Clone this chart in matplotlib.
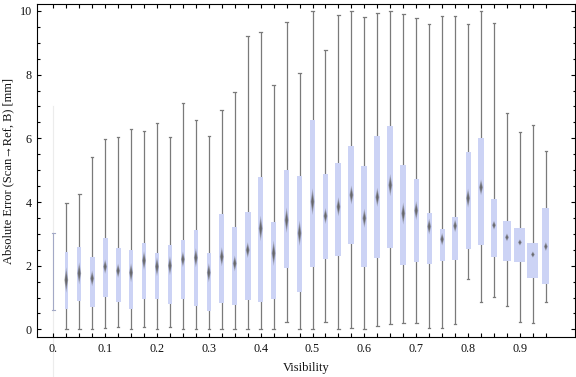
import numpy as np
import matplotlib
matplotlib.use("Agg")
import matplotlib.pyplot as plt
from matplotlib.ticker import FixedLocator, MultipleLocator

plt.rcParams['font.family'] = ['Liberation Serif', 'DejaVu Serif']

# --- data ---
visibility = [0.025, 0.05, 0.075, 0.1, 0.125, 0.15, 0.175, 0.2,
              0.225, 0.25, 0.275, 0.3, 0.325, 0.35, 0.375, 0.4,
              0.425, 0.45, 0.475, 0.5, 0.525, 0.55, 0.575, 0.6, 0.625,
              0.65, 0.675, 0.7, 0.725, 0.75, 0.775, 0.8,
              0.825, 0.85, 0.875, 0.9, 0.925, 0.95]
whisker_low = [0.00, 0.02, 0.02, 0.03, 0.06, 0.00, 0.08, 0.00,
               0.06, 0.02, 0.00, 0.00, 0.00, 0.00, 0.00, 0.00,
               0.00, 0.24, 0.00, 0.00, 0.24, 0.00, 0.03, 0.00, 0.10,
               0.17, 0.21, 0.19, 0.03, 0.03, 0.17, 1.57,
               0.85, 1.02, 0.73, 0.22, 0.19, 0.85]
quart_low = [0.64, 0.88, 0.71, 1.01, 0.86, 0.64, 0.94, 0.95,
             0.81, 0.96, 0.74, 0.59, 0.84, 0.77, 0.93, 0.86,
             0.96, 1.92, 1.18, 1.95, 2.22, 2.30, 2.69, 1.97, 2.25,
             2.57, 2.02, 2.12, 2.06, 2.15, 2.19, 2.53,
             2.65, 2.28, 2.16, 2.13, 1.62, 1.43]
median = [1.55, 1.76, 1.60, 1.97, 1.84, 1.78, 2.16, 1.97,
          2.00, 2.20, 2.25, 1.78, 2.28, 2.07, 2.49, 3.17,
          2.39, 3.43, 3.02, 4.01, 3.56, 3.85, 4.22, 3.49, 4.15,
          4.53, 3.64, 3.73, 3.23, 2.83, 3.25, 4.12,
          4.46, 3.27, 2.89, 2.73, 2.35, 2.60]
quart_high = [2.42, 2.58, 2.27, 2.87, 2.55, 2.49, 2.71, 2.40,
              2.65, 2.81, 3.12, 2.40, 3.62, 3.20, 3.69, 4.79,
              3.37, 5.01, 4.82, 6.58, 4.88, 5.23, 5.76, 5.13, 6.07,
              6.39, 5.16, 4.72, 3.65, 3.15, 3.53, 5.57,
              6.01, 4.08, 3.40, 3.17, 2.70, 3.80]
whisker_high = [3.96, 4.25, 5.41, 5.97, 6.05, 6.30, 6.23, 6.48,
                6.04, 7.10, 6.57, 6.06, 6.89, 7.46, 9.21, 9.33,
                7.69, 9.64, 8.04, 9.99, 8.76, 9.87, 9.99, 9.81, 9.94,
                9.99, 9.90, 9.77, 9.58, 9.84, 9.84, 9.58,
                9.99, 9.61, 6.81, 6.21, 6.41, 5.61]
# median confidence band (diamond height)
notch_height = [0.80, 0.70, 0.50, 0.45, 0.45, 0.60, 0.60, 0.60,
                0.60, 0.50, 0.60, 0.60, 0.60, 0.50, 0.50, 0.80,
                0.80, 0.80, 0.80, 0.84, 0.50, 0.60, 0.60, 0.60, 0.60,
                0.70, 0.70, 0.60, 0.50, 0.40, 0.40, 0.60,
                0.50, 0.28, 0.25, 0.20, 0.20, 0.28]
# first group at visibility 0: only a thin whisker
zero_low, zero_high, zero_faint = 0.62, 3.03, 7.0

xtick_pos = [0.0, 0.1, 0.2, 0.3, 0.4, 0.5, 0.6, 0.7, 0.8, 0.9]
xtick_labels = ['0.', '0.1', '0.2', '0.3', '0.4', '0.5', '0.6', '0.7', '0.8', '0.9']

# box widths in pixels (vary with group size)
box_px = [3.5, 3.5, 5, 5, 5, 4.7, 4.3, 4,
          4, 4, 4, 4, 4.7, 5, 6, 5,
          5, 5, 5, 5, 5, 6, 6, 6, 6,
          6, 6, 5, 5, 5, 6, 5,
          6.7, 6.7, 7.3, 11, 11, 7]

W, H = 576, 377
fig = plt.figure(figsize=(W / 100, H / 100), dpi=100)
ax = fig.add_axes([36.7 / W, 1 - 337 / H, (575.3 - 36.7) / W, (337 - 4.3) / H])

xmin, xmax = -0.032, 1.0068
ax.set_xlim(xmin, xmax)
ax.set_ylim(-0.24, 10.21)
px = (xmax - xmin) / ((575.3 - 36.7))  # data units per pixel

box_color = '#ccd3f5'
wh_color = '#7a7a7a'
cap = 1.3 * px

# faint artifact line and thin whisker at visibility 0
ax.plot([0, 0], [-1.5, zero_faint], color='#ececec', lw=0.8, clip_on=False, zorder=1)
ax.plot([0, 0], [zero_low, zero_high], color='#a3a9c6', lw=0.8, zorder=2)
for yv in (zero_low, zero_high):
    ax.plot([-cap, cap], [yv, yv], color='#a3a9c6', lw=0.8, zorder=2)

for i, x in enumerate(visibility):
    ax.plot([x, x], [whisker_low[i], whisker_high[i]], color=wh_color, lw=0.9,
            solid_capstyle='butt', zorder=2)
    for yv in (whisker_low[i], whisker_high[i]):
        ax.plot([x - cap, x + cap], [yv, yv], color=wh_color, lw=0.9, zorder=2)
    hw = box_px[i] * px / 2
    ax.fill_between([x - hw, x + hw], quart_low[i], quart_high[i],
                    color=box_color, lw=0, zorder=3)
    # blurred diamond median marker
    m, h = median[i], notch_height[i] / 2
    for scale, alpha in ((1.0, 0.35), (0.75, 0.5), (0.5, 0.8)):
        dw = 2.0 * px * scale
        dh = h * scale
        ax.fill([x, x + dw, x, x - dw], [m + dh, m, m - dh, m],
                color='#606060', alpha=alpha, lw=0, zorder=4)

# ticks
ax.xaxis.set_major_locator(FixedLocator(xtick_pos))
ax.set_xticklabels(xtick_labels)
ax.xaxis.set_minor_locator(FixedLocator([k * 0.025 for k in range(39)]))
ax.yaxis.set_major_locator(FixedLocator([0, 2, 4, 6, 8, 10]))
ax.yaxis.set_minor_locator(MultipleLocator(0.5))
ax.tick_params(which='both', direction='in', top=True, right=True,
               width=0.8, color='black', labelsize=8.7, labelcolor='#111111')
ax.tick_params(axis='x', which='both', length=3.0, pad=4)
ax.tick_params(axis='y', which='major', length=3.0, pad=3.5)
ax.tick_params(axis='y', which='minor', length=1.8)
for s in ax.spines.values():
    s.set_linewidth(0.8)
    s.set_color('black')

fig.text(306 / W, 1 - 368.5 / H, 'Visibility', ha='center', va='center',
         fontsize=9, color='#111111')
fig.text(8 / W, 1 - 170.6 / H, 'Absolute Error (Scan\u2192Ref, B) [mm]',
         ha='center', va='center', rotation=90, fontsize=9, color='#111111',
         family=['Liberation Serif', 'DejaVu Serif'])

fig.savefig('out.png', dpi=100)
